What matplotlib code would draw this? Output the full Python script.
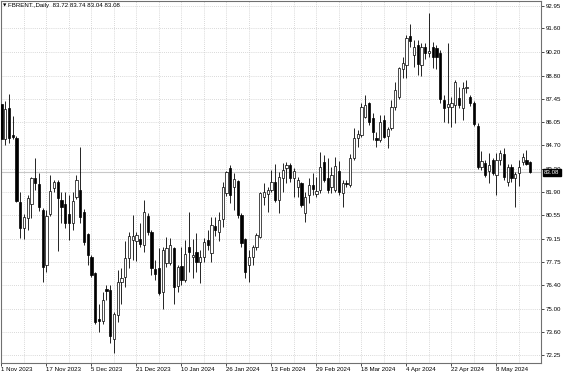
import numpy as np
import pandas as pd
import matplotlib
matplotlib.use("Agg")
import matplotlib.pyplot as plt
import matplotlib.transforms as mtransforms

# daily bars, 1 Nov 2023 .. 21 May 2024 (no bar on 25 Dec, 1 Jan, 29 Mar)
dates = pd.bdate_range("2023-11-01", "2024-05-21")
dates = dates.drop(pd.to_datetime(["2023-12-25", "2024-01-01", "2024-03-29"]))

opens = [87.15, 85.05, 86.90, 85.30, 85.10, 81.31, 79.77, 80.40, 81.20, 82.73,
         82.37, 80.85, 77.60, 80.60, 82.18, 82.49, 81.45, 81.19, 80.60, 80.06,
         81.64, 82.04, 80.75, 79.41, 78.09, 77.10, 74.40, 74.30, 76.16, 76.12,
         73.21, 74.64, 76.61, 76.90, 78.00, 79.10, 79.02, 79.14, 78.78, 80.52,
         79.57, 77.36, 77.40, 76.02, 77.70, 77.70, 78.62, 76.37, 77.55, 76.71,
         78.68, 78.05, 78.39, 77.79, 78.09, 79.08, 78.29, 79.91, 79.57, 80.32,
         81.84, 83.32, 82.24, 82.59, 80.56, 79.14, 77.60, 78.09, 78.68, 79.27,
         81.64, 81.78, 82.04, 82.53, 81.45, 82.73, 83.32, 83.52, 82.73, 82.24,
         82.43, 80.66, 81.74, 82.34, 81.78, 82.04, 83.71, 82.73, 82.24, 82.04,
         83.16, 81.84, 82.43, 82.34, 83.91, 85.10, 85.30, 86.38, 87.17, 86.28,
         85.10, 85.00, 86.18, 85.23, 85.69, 86.97, 87.56, 89.18, 89.44, 91.16,
         90.03, 90.62, 89.44, 90.52, 90.13, 90.52, 90.46, 90.13, 87.37, 86.93,
         86.97, 87.07, 87.47, 86.87, 88.06, 87.56, 87.21, 85.83, 83.38, 83.61,
         83.18, 83.81, 82.92, 83.81, 84.17, 82.53, 83.42, 82.73, 83.02, 83.71,
         83.80, 83.72]
highs = [87.45, 87.30, 87.70, 86.40, 85.25, 81.94, 80.60, 81.74, 82.83, 83.91,
         83.02, 80.95, 80.85, 82.93, 82.63, 82.63, 81.94, 81.94, 81.74, 81.94,
         82.93, 84.60, 80.90, 79.47, 78.20, 77.20, 75.30, 76.00, 76.41, 76.41,
         74.80, 77.30, 77.40, 79.00, 79.57, 80.56, 79.57, 80.06, 81.45, 80.66,
         79.67, 77.89, 78.58, 78.68, 79.28, 79.20, 78.68, 77.60, 78.68, 79.08,
         80.75, 79.14, 79.47, 78.48, 79.22, 79.67, 80.46, 80.46, 80.71, 82.53,
         83.16, 83.52, 83.02, 82.63, 80.70, 79.20, 78.48, 78.78, 79.47, 81.94,
         82.43, 82.24, 83.22, 83.56, 83.12, 83.62, 83.71, 83.62, 83.32, 82.83,
         82.53, 81.94, 82.73, 83.02, 82.83, 84.31, 84.11, 83.91, 83.42, 84.01,
         83.75, 82.63, 82.60, 84.15, 85.69, 85.59, 87.17, 87.66, 87.27, 86.58,
         85.49, 86.48, 86.48, 85.79, 87.37, 88.45, 89.34, 89.93, 91.22, 91.87,
         90.92, 90.92, 90.72, 90.72, 92.50, 90.82, 90.60, 90.30, 87.66, 90.74,
         87.56, 88.55, 88.15, 88.45, 88.55, 87.66, 87.30, 86.00, 84.37, 83.81,
         84.21, 83.91, 84.21, 84.40, 84.50, 83.60, 83.60, 83.10, 83.81, 84.21,
         84.40, 83.74]
lows = [84.75, 84.70, 84.80, 85.05, 81.30, 79.18, 79.14, 79.67, 80.40, 82.04,
        80.79, 76.57, 77.20, 80.50, 81.90, 78.43, 80.06, 79.77, 79.08, 79.67,
        81.50, 80.06, 78.80, 77.60, 76.90, 74.08, 73.60, 74.10, 75.50, 72.96,
        72.37, 74.24, 75.29, 76.30, 77.40, 77.90, 77.83, 78.68, 78.39, 79.37,
        77.00, 76.71, 75.80, 75.00, 77.50, 77.60, 75.27, 76.02, 76.41, 76.61,
        77.20, 76.85, 77.20, 76.51, 77.79, 78.48, 77.79, 79.30, 79.02, 79.87,
        81.70, 81.25, 80.85, 80.36, 78.68, 76.81, 76.61, 77.60, 78.48, 79.17,
        81.15, 80.71, 81.94, 81.31, 80.66, 81.90, 82.43, 82.53, 81.64, 81.64,
        81.00, 80.16, 81.25, 81.74, 81.64, 81.84, 82.50, 81.84, 81.84, 81.90,
        81.74, 81.05, 82.20, 82.20, 83.80, 84.60, 85.20, 86.28, 85.90, 85.00,
        84.56, 84.90, 85.10, 84.50, 85.60, 86.80, 87.40, 88.65, 88.65, 90.53,
        89.34, 88.85, 88.79, 89.80, 89.90, 89.24, 89.20, 87.20, 86.08, 86.00,
        85.79, 85.99, 86.90, 86.18, 87.80, 87.00, 85.80, 83.30, 83.22, 82.80,
        82.43, 82.90, 81.74, 83.50, 82.60, 82.30, 82.50, 81.05, 82.30, 83.50,
        83.50, 83.04]
closes = [85.05, 86.85, 85.10, 85.15, 81.39, 79.77, 80.45, 81.54, 82.77, 82.43,
          81.05, 77.50, 80.52, 81.98, 82.49, 81.58, 81.05, 80.06, 80.06, 81.39,
          82.63, 80.46, 78.98, 78.19, 77.00, 74.22, 74.25, 75.50, 76.06, 73.41,
          74.68, 76.61, 76.81, 78.03, 79.33, 79.30, 79.37, 78.86, 80.71, 79.57,
          77.40, 77.04, 75.92, 78.49, 78.58, 78.78, 76.31, 77.50, 76.71, 78.23,
          78.39, 78.19, 77.79, 78.09, 78.98, 78.78, 79.97, 79.67, 80.26, 82.24,
          83.12, 81.74, 82.69, 80.56, 78.88, 77.20, 78.09, 78.68, 79.37, 81.84,
          81.94, 82.04, 82.53, 81.45, 82.83, 83.22, 83.52, 82.73, 83.16, 82.63,
          81.15, 81.64, 82.34, 82.10, 81.98, 83.42, 82.63, 82.04, 82.93, 83.48,
          81.94, 82.43, 82.37, 83.91, 85.10, 85.33, 86.93, 87.07, 86.08, 85.49,
          85.00, 86.08, 85.20, 85.63, 86.97, 87.96, 89.24, 89.54, 91.02, 90.88,
          90.52, 89.50, 90.52, 90.13, 90.29, 89.93, 89.93, 87.41, 86.87, 87.10,
          87.17, 88.45, 87.07, 88.06, 88.15, 87.21, 85.95, 83.42, 83.77, 82.92,
          83.52, 83.02, 83.81, 84.21, 82.79, 83.42, 82.73, 82.99, 83.42, 84.00,
          83.60, 83.08]

price_ticks = [92.95, 91.60, 90.20, 88.80, 87.45, 86.05, 84.70, 83.30,
               81.90, 80.55, 79.15, 77.75, 76.40, 75.00, 73.60, 72.25]
last_price = 83.08
header = "FBRENT.,Daily  83.72 83.74 83.04 83.08"

o = np.array(opens)
h = np.array(highs)
l = np.array(lows)
c = np.array(closes)
x = np.arange(len(o))
up = c >= o

fnt = "Liberation Sans"
fs = 4.4

fig = plt.figure(figsize=(5.64, 3.76), dpi=100)
ax = fig.add_axes([1 / 564, 13 / 376, 540 / 564, 361.7 / 376])

# grid
ax.set_xticks(x[::12])
ax.set_xticks(x[::6], minor=True)
ax.set_yticks(price_ticks)
ax.xaxis.grid(True, which="both", color="#cccccc", linestyle=(0, (1, 1.5)), lw=0.6)
ax.yaxis.grid(True, which="major", color="#cccccc", linestyle=(0, (1, 1.5)), lw=0.6)
ax.set_axisbelow(True)

ax.axhline(last_price, color="#c8c8c8", lw=0.8, zorder=1)

# candles
ax.vlines(x, l, h, color="black", lw=0.6, zorder=2)
body = np.maximum(np.abs(c - o), 0.04)
ax.bar(x, body, bottom=np.minimum(o, c), width=0.62,
       color=np.where(up, "white", "black"), edgecolor="black",
       linewidth=0.5, zorder=3)

ax.set_xlim(-0.13, 143.87)
ax.set_ylim(71.79, 93.21)

# axes styling
for sp in ax.spines.values():
    sp.set_color("#707070")
    sp.set_linewidth(0.8)
ax.yaxis.tick_right()
ax.tick_params(axis="y", length=2, width=0.5, pad=1.5, labelsize=fs, colors="black")
ax.tick_params(axis="x", which="major", length=2, width=0.5, pad=1.2, labelsize=fs)
ax.tick_params(axis="x", which="minor", length=0)
labels = [f"{d.day} {d.strftime('%b %Y')}" for d in dates[::12]]
ax.set_xticklabels(labels, ha="left", fontname=fnt)
for lab in ax.get_yticklabels():
    lab.set_fontname(fnt)

# last price box (covers the 83.30 label like in the terminal)
trans = mtransforms.blended_transform_factory(ax.transAxes, ax.transData)
ax.text(1.0 + 3 / 540, last_price, f"{last_price:.2f}", transform=trans,
        ha="left", va="center", color="white", fontsize=fs, fontname=fnt,
        bbox=dict(facecolor="black", edgecolor="black", pad=0.9), zorder=5,
        clip_on=False)

# header
fig.text(3 / 564, 1 - 5.7 / 376, "\u25bc", fontsize=3.2, family="DejaVu Sans",
         va="center", ha="left")
fig.text(8.5 / 564, 1 - 5.7 / 376, header, fontsize=fs, fontname=fnt,
         va="center", ha="left")

fig.savefig("out.png", dpi=100)
